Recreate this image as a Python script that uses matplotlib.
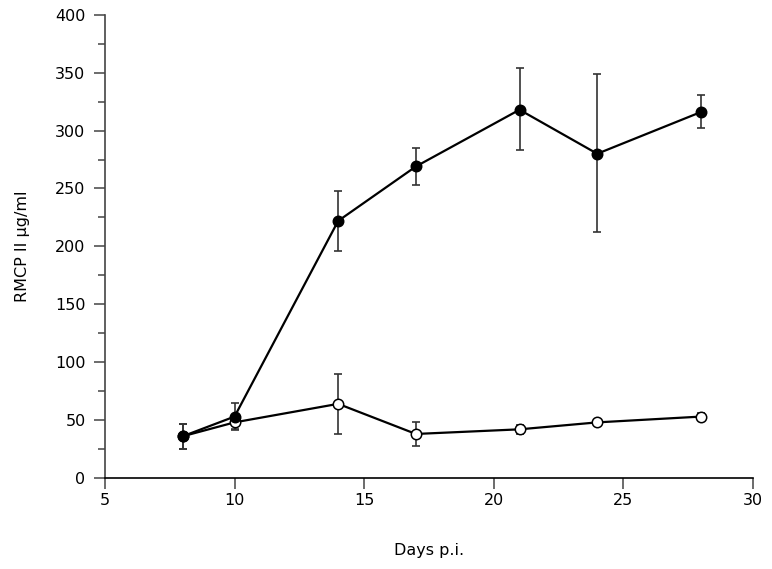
import matplotlib
matplotlib.use("Agg")
import matplotlib.pyplot as plt
from matplotlib.ticker import MultipleLocator

days = [8, 10, 14, 17, 21, 24, 28]

# infected (filled circles)
filled_mean = [36, 53, 222, 269, 318, 280, 316]
filled_lo = [25, 41, 196, 253, 283, 212, 302]
filled_hi = [47, 65, 248, 285, 354, 349, 331]

# control (open circles)
open_mean = [36, 48, 64, 38, 42, 48, 53]
open_lo = [25, 42, 38, 28, 38, 46, 50]
open_hi = [47, 53, 90, 48, 46, 50, 56]

plt.rcParams['font.family'] = ['DejaVu Sans']

fig = plt.figure(figsize=(7.72, 5.69), dpi=100)
ax = fig.add_axes([0.136, 0.16, 0.839, 0.814])

def draw(mean, lo, hi, face):
    err = [[m - l for m, l in zip(mean, lo)], [h - m for m, h in zip(mean, hi)]]
    ax.errorbar(days, mean, yerr=err, fmt='none', ecolor='#333333',
                elinewidth=1.2, capsize=3, capthick=1.2, zorder=2)
    ax.plot(days, mean, color='black', lw=1.6, marker='o', markersize=7.5,
            markerfacecolor=face, markeredgecolor='black', markeredgewidth=1.1,
            zorder=3)

draw(open_mean, open_lo, open_hi, 'white')
draw(filled_mean, filled_lo, filled_hi, 'black')

ax.set_xlim(5, 30)
ax.set_ylim(0, 400)
ax.xaxis.set_major_locator(MultipleLocator(5))
ax.yaxis.set_major_locator(MultipleLocator(50))
ax.yaxis.set_minor_locator(MultipleLocator(25))
for s in ['top', 'right']:
    ax.spines[s].set_visible(False)
ax.spines['left'].set_color('#444444')
ax.spines['left'].set_linewidth(1.2)
ax.spines['bottom'].set_linewidth(1.2)
ax.tick_params(axis='both', which='major', direction='out', length=8,
               width=1.1, labelsize=11.5, color='#444444', pad=6)
ax.tick_params(axis='y', which='minor', direction='out', length=5,
               width=1.1, color='#444444')
ax.tick_params(axis='x', pad=3)

ax.set_xlabel('Days p.i.', fontsize=11.5, labelpad=25)
ax.set_ylabel('RMCP II \u03bcg/ml', fontsize=11.5, labelpad=18)

fig.savefig('out.png', dpi=100)
